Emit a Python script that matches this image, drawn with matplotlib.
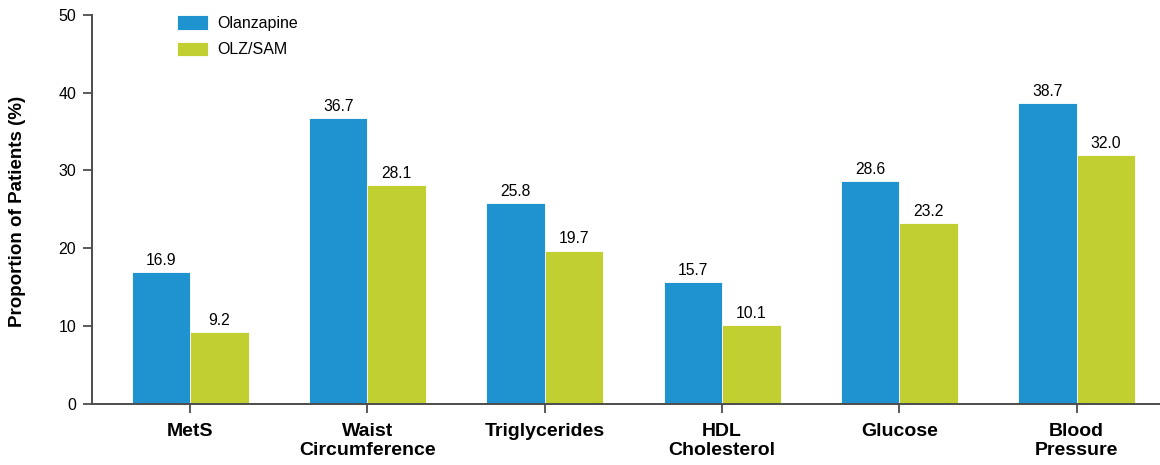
import numpy as np
import matplotlib
matplotlib.use("Agg")
import matplotlib.pyplot as plt

plt.rcParams['font.family'] = ['Liberation Sans', 'DejaVu Sans']

# data
categories = ["MetS", "Waist\nCircumference", "Triglycerides", "HDL\nCholesterol",
              "Glucose", "Blood\nPressure"]
olanzapine = [16.9, 36.7, 25.8, 15.7, 28.6, 38.7]
olz_sam = [9.2, 28.1, 19.7, 10.1, 23.2, 32.0]
series_names = ["Olanzapine", "OLZ/SAM"]

blue = "#1f93d0"
green = "#c1cf30"
axis_col = "#4d4d4d"

fig = plt.figure(figsize=(11.6, 4.65), dpi=100)
ax = fig.add_axes([92 / 1160, 61 / 465, 1 - 92 / 1160, (404 - 14.7) / 465])

x = np.arange(len(categories))
w = 0.33
b1 = ax.bar(x - w / 2, olanzapine, w, color=blue, edgecolor="white", linewidth=0.6,
            label=series_names[0])
b2 = ax.bar(x + w / 2, olz_sam, w, color=green, edgecolor="white", linewidth=0.6,
            label=series_names[1])
ax.bar_label(b1, labels=[f"{v:.1f}" for v in olanzapine], padding=3, fontsize=11.3)
ax.bar_label(b2, labels=[f"{v:.1f}" for v in olz_sam], padding=3, fontsize=11.3)

ax.set_xlim(-0.553, 5.47)
ax.set_ylim(0, 50)
ax.set_yticks([0, 10, 20, 30, 40, 50])
ax.set_xticks(x)
ax.set_xticklabels(categories, fontsize=14, fontweight="bold")
ax.tick_params(axis="y", labelsize=11.5, length=6.5, width=1.3, color=axis_col, pad=5)
ax.tick_params(axis="x", length=6.5, width=1.3, color=axis_col, pad=7)

for s in ["top", "right"]:
    ax.spines[s].set_visible(False)
for s in ["left", "bottom"]:
    ax.spines[s].set_color(axis_col)
    ax.spines[s].set_linewidth(1.4)

fig.text(18 / 1160, 254 / 465, "Proportion of Patients (%)", rotation=90,
         fontsize=13.5, fontweight="bold", ha="center", va="center")

ax.legend(loc="upper left", bbox_to_anchor=(163 / 1160, 1 - 1 / 465),
          bbox_transform=fig.transFigure, frameon=False, fontsize=11.5,
          handlelength=1.9, handleheight=1.05, labelspacing=0.65, handletextpad=0.6)

fig.savefig("out.png", dpi=100)
